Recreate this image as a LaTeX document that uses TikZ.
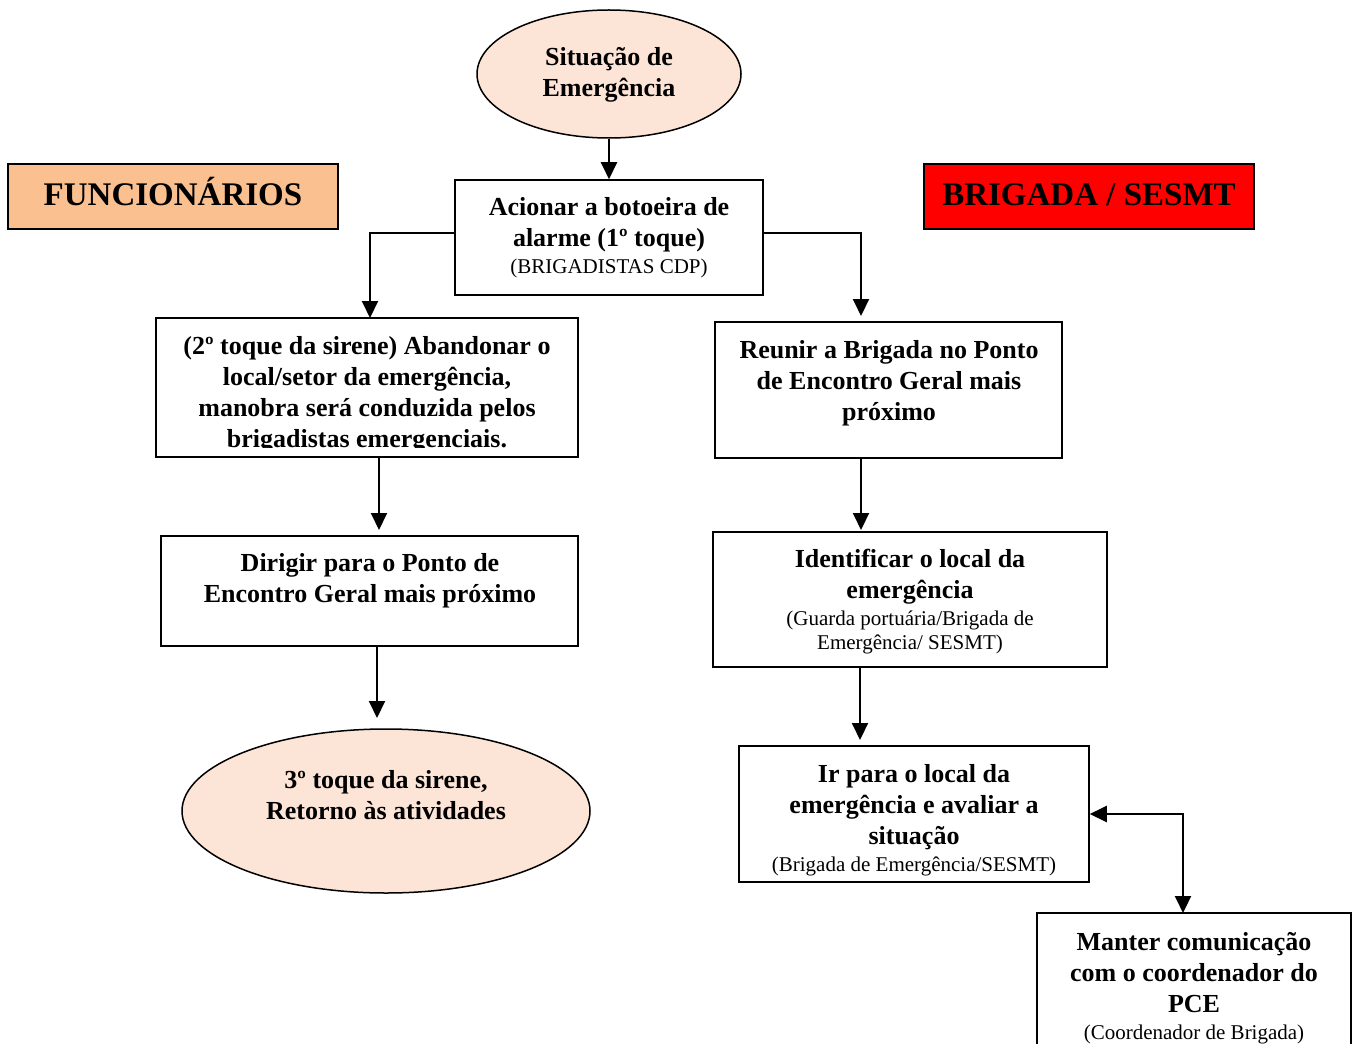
\documentclass[tikz,border=0pt]{standalone}
\usepackage{fontspec}
\setmainfont{Liberation Serif}
\usetikzlibrary{arrows.meta,shapes.geometric}
\definecolor{peach}{RGB}{252,228,214}
\definecolor{orangehead}{RGB}{250,192,143}
\definecolor{redhead}{RGB}{255,0,0}
\tikzset{
  boxshape/.style={draw=black, line width=0.75pt, inner sep=0, rectangle},
  ellshape/.style={draw=black, line width=0.75pt, fill=peach, inner sep=0, ellipse},
  headbox/.style={draw=black, line width=1pt, inner sep=0, rectangle},
  txt/.style={align=center, inner sep=0, font=\bfseries\fontsize{13}{15.5}\selectfont},
  headtxt/.style={inner sep=0, font=\bfseries\fontsize{16.5}{19}\selectfont},
  conn/.style={line width=1pt, -{Triangle[length=8.5pt,width=8pt]}},
  conn2/.style={line width=1pt, {Triangle[length=8.5pt,width=8pt]}-{Triangle[length=8.5pt,width=8pt]}}
}
\newcommand{\smalltxt}{\mdseries\fontsize{10.5}{12}\selectfont}
\begin{document}
\begin{tikzpicture}[x=0.5pt,y=-0.5pt]
\useasboundingbox (0,0) rectangle (1358,1043);
\begin{scope}
\clip (0,0) rectangle (1358,1043);
% shapes
\node[ellshape, minimum width=132pt, minimum height=64pt] (e1) at (609,74) {};
\node[boxshape, minimum width=154pt, minimum height=57.5pt] (b1) at (609,237.5) {};
\node[headbox, fill=orangehead, minimum width=165pt, minimum height=32.5pt] (hf) at (173,196.5) {};
\node[headbox, fill=redhead, minimum width=165pt, minimum height=32.5pt] (hb) at (1089,196.5) {};
\node[boxshape, minimum width=211pt, minimum height=69.5pt] (b2) at (367,387.5) {};
\node[boxshape, minimum width=208.5pt, minimum height=55pt] (b3) at (369.5,591) {};
\node[ellshape, minimum width=204pt, minimum height=82pt] (e2) at (386,811) {};
\node[boxshape, minimum width=173.5pt, minimum height=68pt] (r1) at (888.5,390) {};
\node[boxshape, minimum width=197pt, minimum height=67.5pt] (r2) at (910,599.5) {};
\node[boxshape, minimum width=175pt, minimum height=68pt] (r3) at (914,814) {};
\node[boxshape, minimum width=157pt, minimum height=70pt] (r4) at (1194,983) {};
\end{scope}
% texts
\node[txt] (te1) at (609,75) {Situação de\\Emergência};
\node[txt] (tb1) at (609,238) {Acionar a botoeira de\\alarme (1º toque)\\[-2pt]{\smalltxt (BRIGADISTAS CDP)}};
\node[headtxt] (thf) at (173,192) {FUNCIONÁRIOS};
\node[headtxt] (thb) at (1089,195) {BRIGADA / SESMT};
\begin{scope}
\clip (156,319) rectangle (578,447);
\node[txt] (tb2) at (367,395) {(2º toque da sirene) Abandonar o\\local/setor da emergência,\\manobra será conduzida pelos\\brigadistas emergenciais.};
\end{scope}
\node[txt] (tb3) at (370,581) {Dirigir para o Ponto de\\Encontro Geral mais próximo};
\node[txt] (te2) at (386,795) {3º toque da sirene,\\Retorno às atividades};
\node[txt] (tr1) at (889,383) {Reunir a Brigada no Ponto\\de Encontro Geral mais\\próximo};
\node[txt] (tr2) at (910,602) {Identificar o local da\\emergência\\[-2pt]{\smalltxt (Guarda portuária/Brigada de}\\[-3.5pt]{\smalltxt Emergência/ SESMT)}};
\node[txt] (tr3) at (914,820) {Ir para o local da\\emergência e avaliar a\\situação\\[-2pt]{\smalltxt (Brigada de Emergência/SESMT)}};
\node[txt] (tr4) at (1194,988) {Manter comunicação\\com o coordenador do\\PCE\\[-2pt]{\smalltxt (Coordenador de Brigada)}};
% connectors
\draw[conn] (e1.south) -- (b1.north);
\draw[conn] ([yshift=2.25pt]b1.west) -| (370,318);
\draw[conn] ([yshift=2.25pt]b1.east) -| (861,316);
\draw[conn] (379,457) -- (379,530);
\draw[conn] (377,646) -- (377,718);
\draw[conn] (861,458) -- (861,530);
\draw[conn] (860,667) -- (860,740);
\draw[conn2] (r3.east) -| (1183,913);
\end{tikzpicture}
\end{document}
